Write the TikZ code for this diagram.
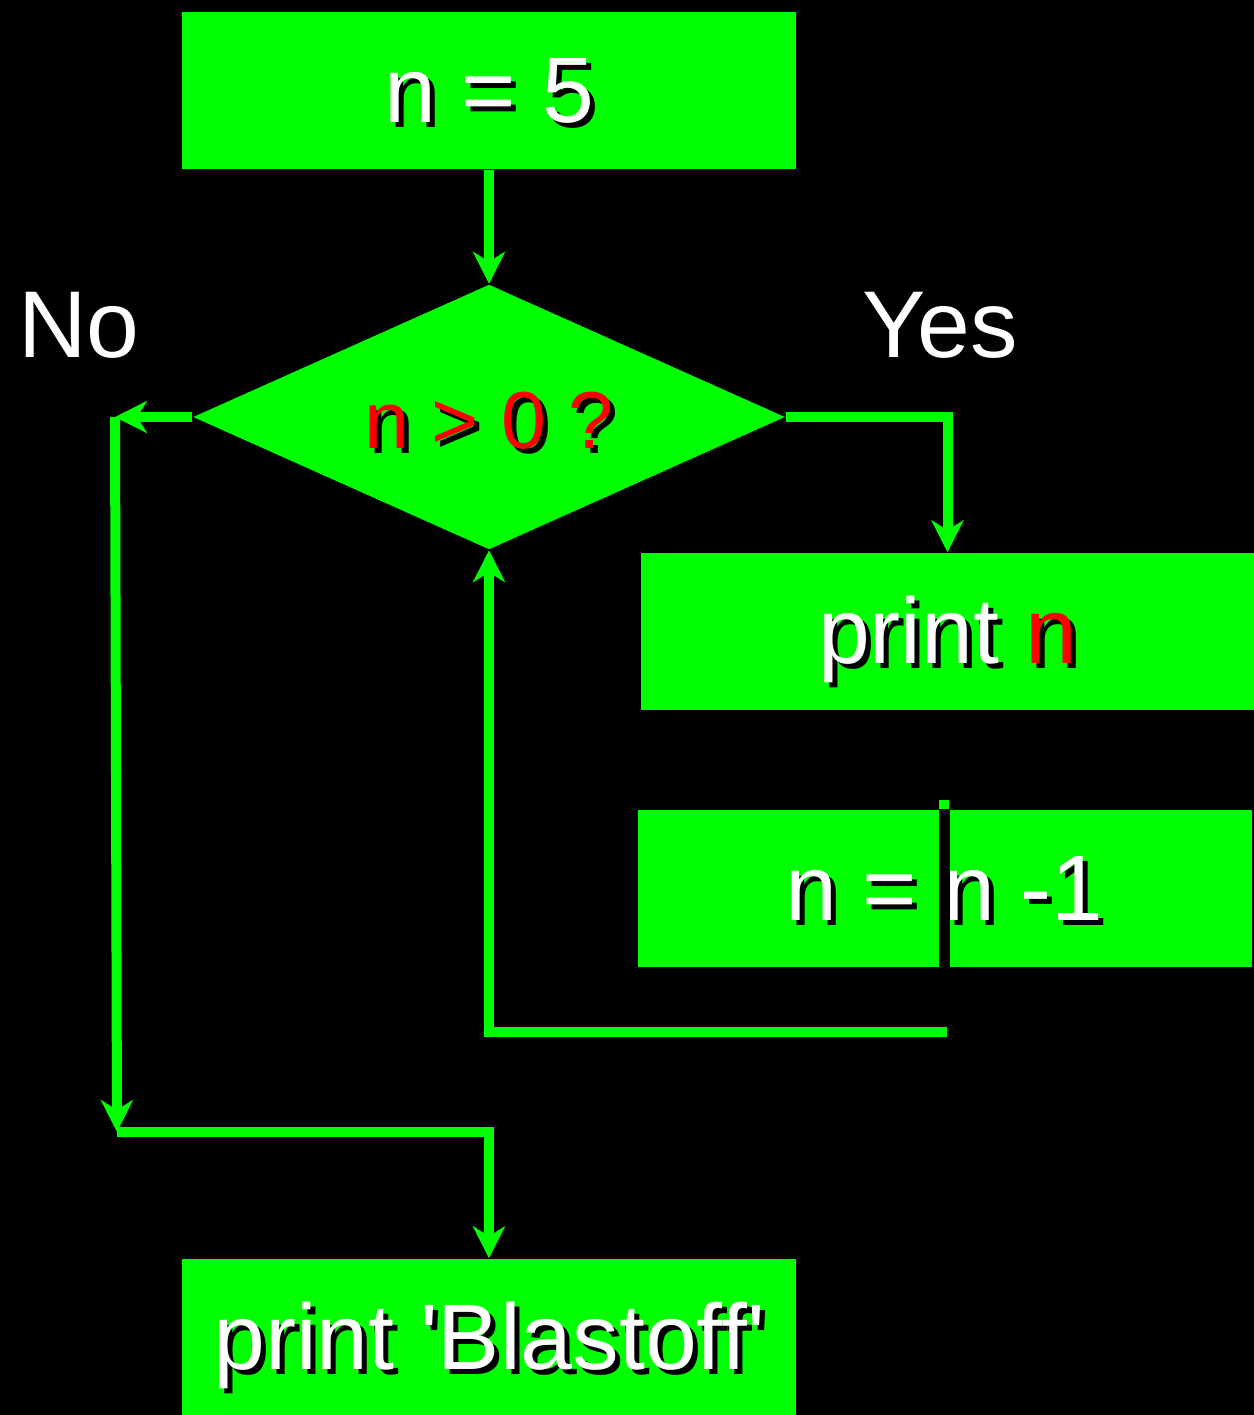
\documentclass[tikz,border=0pt]{standalone}
\usepackage{fontspec}
\setmainfont{Liberation Sans}
\usetikzlibrary{shapes.geometric,arrows.meta}
\definecolor{flowgreen}{RGB}{0,255,0}
\definecolor{flowred}{RGB}{255,0,0}
\newcommand{\shadowtext}[2][white]{\makebox[0pt][l]{\kern0.05cm\raisebox{-0.05cm}{\color{black}#2}}{\color{#1}#2}}
\begin{document}
\begin{tikzpicture}
	\tikzset{block/.style={rectangle, fill=flowgreen, minimum width=6.14cm, minimum height=1.57cm, inner sep=0pt, text height=0.7cm, text depth=0.06cm, font=\fontsize{26.5}{30}\selectfont}};
	\tikzset{test/.style={diamond, aspect=2.23, fill=flowgreen, minimum width=5.92cm, minimum height=2.65cm, inner sep=0pt, text height=0.66cm, text depth=0.04cm, font=\fontsize{23}{26}\selectfont}};
	\tikzset{answer/.style={white, font=\fontsize{27}{30}\selectfont}};
	\tikzset{link/.style={flowgreen, line width=0.1cm}};
	\tikzset{linkarrow/.style={link, -{Stealth[length=0.32cm, width=0.32cm, inset=0.1cm]}}};
	\fill[black] (0,0) rectangle (12.54,-14.15);
	\useasboundingbox (0,0) rectangle (12.54,-14.15);
	% boxes
	\node[block] (start) at ( 4.89, -0.91 ) {\shadowtext{n = 5}};
	\node[test] (check) at ( 4.89, -4.17 ) {\shadowtext[flowred]{n > 0 ?}};
	\node[block] (show) at ( 9.475,-6.315) {\shadowtext{print} \shadowtext[flowred]{n}};
	\node[block] (dec) at ( 9.445,-8.88 ) {\shadowtext{n = n -1}};
	\node[block] (done) at ( 4.89,-13.375) {\shadowtext{print \textquotesingle Blastoff\textquotesingle}};
	\node[answer] (no) at ( 0.79, -3.25 ) {No};
	\node[answer] (yes) at ( 9.40, -3.25 ) {Yes};
	% turning points
	\coordinate (noturn) at ( 1.15, -4.17 );
	\coordinate (join) at ( 1.17,-11.32 );
	\coordinate (back) at ( 4.89,-10.32 );
	\coordinate (loop) at ( 9.47,-10.32 );
	\coordinate (cut) at ( 9.44, -8.00 );
	% connectors
	\draw[linkarrow] (start.south) -- (check.north);
	\draw[linkarrow] (check.east) -| (show.north);
	\draw[linkarrow] (check.west) -- (noturn);
	\draw[linkarrow] (noturn) -- (join);
	\draw[linkarrow] (join) -| (done.north);
	\draw[linkarrow] (loop) -- (back) -- (check.south);
	\draw[link] (cut) -- (cut |- dec.north);
	\draw[black, line width=0.11cm] (cut |- dec.north) -- (cut |- dec.south);
\end{tikzpicture}
\end{document}
